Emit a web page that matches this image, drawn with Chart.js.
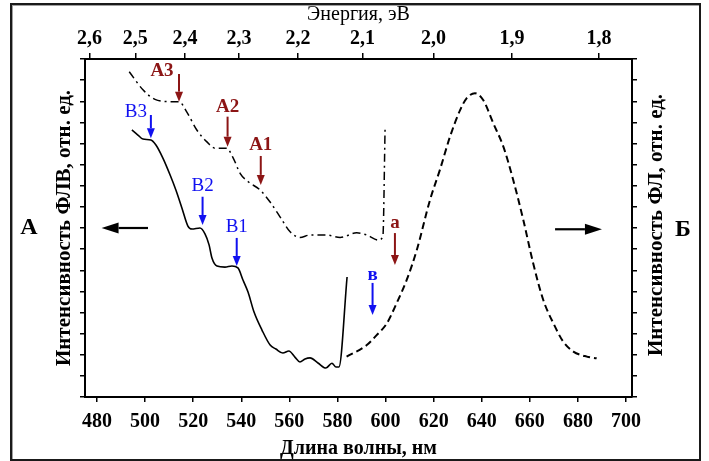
<!DOCTYPE html>
<html><head><meta charset="utf-8">
<script src="https://cdn.jsdelivr.net/npm/chart.js@4/dist/chart.umd.min.js"></script>
<style>
html,body{margin:0;padding:0;background:#fff;}
#wrap{position:relative;width:709px;height:461px;overflow:hidden;background:#fff;}
#c{position:absolute;left:0;top:0;}
#frame{position:absolute;left:10px;top:3px;width:687px;height:454px;border:2px solid #1a1a1a;box-shadow:inset 1px 1px 0 #a0a0a0;pointer-events:none;}
</style></head><body>
<div id="wrap"><canvas id="c" width="709" height="461"></canvas><div id="frame"></div></div>
<script>
// ---- data ----
// wavelength axis ticks, nm
const X_TICKS = [480, 500, 520, 540, 560, 580, 600, 620, 640, 660, 680, 700];
// energy axis ticks, eV
const E_TICKS = [2.6, 2.5, 2.4, 2.3, 2.2, 2.1, 2.0, 1.9, 1.8];
const E_LABELS = ['2,6', '2,5', '2,4', '2,3', '2,2', '2,1', '2,0', '1,9', '1,8'];
const HC = 1239.84; // eV*nm

// ФЛВ, curve "В" (solid)
const WL_B = [494.5, 497.0, 499.1, 502.4, 504.5, 507.4, 510.4, 512.8, 515.3, 517.8, 519.5, 522.8, 524.9, 526.6, 527.8, 529.9, 533.2, 536.1, 538.6, 540.7, 542.8, 545.3, 548.6, 552.0, 554.4, 557.3, 559.8, 562.3, 564.4, 566.5, 568.6, 571.9, 575.2, 577.7, 579.4, 580.6, 584.0];
const I_B  = [12.64, 12.40, 12.21, 12.17, 11.93, 11.31, 10.51, 9.80, 8.95, 8.09, 7.95, 8.00, 7.72, 7.20, 6.58, 6.20, 6.15, 6.20, 6.11, 5.54, 4.97, 4.02, 3.17, 2.46, 2.27, 2.08, 2.18, 1.89, 1.66, 1.80, 1.85, 1.61, 1.37, 1.60, 1.42, 1.42, 5.68];

// ФЛВ, curve "А" (dash-dot)
const WL_A = [493.4, 499.2, 504.1, 511.1, 514.1, 517.3, 521.5, 525.6, 529.1, 533.9, 536.7, 539.5, 542.9, 547.8, 551.9, 556.1, 560.3, 564.4, 568.6, 575.5, 581.1, 588.0, 592.2, 597.0, 598.9, 599.8];
const I_A  = [15.40, 14.53, 14.09, 13.98, 13.98, 13.50, 12.64, 12.09, 11.78, 11.78, 11.30, 10.59, 10.19, 9.80, 9.24, 8.53, 7.82, 7.55, 7.67, 7.67, 7.55, 7.77, 7.67, 7.43, 7.62, 12.68];

// ФЛ (dashed)
const WL_F = [583.8, 592.2, 596.3, 600.5, 604.6, 608.8, 613.0, 618.5, 622.6, 626.8, 631.0, 633.7, 637.2, 640.6, 644.8, 649.0, 653.1, 657.3, 661.4, 665.6, 669.8, 673.9, 678.1, 683.7, 687.8];
const I_F  = [1.91, 2.46, 2.93, 3.48, 4.44, 5.54, 6.96, 9.33, 10.75, 12.32, 13.58, 14.14, 14.38, 14.06, 12.96, 11.85, 10.27, 8.38, 6.33, 4.59, 3.49, 2.62, 2.15, 1.91, 1.83];

// marked features: label, wavelength, arrow tip and tail (intensity units)
const ANN_LABELS = ['А3', 'А2', 'А1', 'а', 'В3', 'В2', 'В1', 'в'];
const ANN_X    = [514.1, 534.3, 548.1, 603.9, 502.4, 523.9, 538.1, 594.6];
const ANN_TIP  = [13.98, 11.85, 10.04, 6.25, 12.25, 8.14, 6.20, 3.88];
const ANN_TAIL = [15.29, 13.27, 11.41, 7.76, 13.35, 9.48, 7.53, 5.40];
const ANN_GROUP = ['A', 'A', 'A', 'A', 'B', 'B', 'B', 'B'];

// side arrows (wavelength from, to; intensity level)
const SIDE_ARROWS = [[501.2, 481.9, 8.0], [670.5, 690.0, 7.94]];

// ---- styles ----
const FONT = "'Liberation Serif', 'Times New Roman', serif";
const RED = '#8c1515';
const BLUE = '#1010f0';
const LABEL_DX = [-17, 0, 0, 0, -15, 0, 0, 0];
const LABEL_DY = [-3, -10, -11, -10, -3, -11, -11, -8];

const toXY = (xs, ys) => xs.map((v, i) => ({x: v, y: ys[i]}));

function arrow(ctx, x1, y1, x2, y2, color, lw, hl, hw) {
  const a = Math.atan2(y2 - y1, x2 - x1);
  const bx = x2 - hl * Math.cos(a), by = y2 - hl * Math.sin(a);
  ctx.strokeStyle = color; ctx.fillStyle = color; ctx.lineWidth = lw;
  ctx.beginPath(); ctx.moveTo(x1, y1); ctx.lineTo(bx, by); ctx.stroke();
  ctx.beginPath();
  ctx.moveTo(x2, y2);
  ctx.lineTo(bx + hw * Math.sin(a), by - hw * Math.cos(a));
  ctx.lineTo(bx - hw * Math.sin(a), by + hw * Math.cos(a));
  ctx.closePath(); ctx.fill();
}

const annPlugin = {
  id: 'ann',
  afterDraw(chart) {
    const {ctx} = chart;
    const x = chart.scales.x, y = chart.scales.y;
    ctx.save();
    for (let i = 0; i < ANN_LABELS.length; i++) {
      const col = ANN_GROUP[i] === 'A' ? RED : BLUE;
      const px = x.getPixelForValue(ANN_X[i]);
      const pt = y.getPixelForValue(ANN_TIP[i]);
      const pl = y.getPixelForValue(ANN_TAIL[i]);
      arrow(ctx, px, pl, px, pt, col, 2, 10, 4);
      ctx.font = (ANN_GROUP[i] === 'A' || i === 7 ? 'bold ' : '') + '19px ' + FONT;
      ctx.fillStyle = col;
      ctx.textAlign = 'center'; ctx.textBaseline = 'middle';
      ctx.fillText(ANN_LABELS[i], px + LABEL_DX[i], pl + LABEL_DY[i]);
    }
    for (const [a, b, lv] of SIDE_ARROWS) {
      const yy = y.getPixelForValue(lv);
      arrow(ctx, x.getPixelForValue(a), yy, x.getPixelForValue(b), yy, '#000', 2.2, 17, 5.5);
    }
    ctx.fillStyle = '#000';
    ctx.textAlign = 'center'; ctx.textBaseline = 'middle';
    ctx.font = 'bold 24px ' + FONT;
    ctx.fillText('А', 29, 228);
    ctx.fillText('Б', 683, 230);
    ctx.font = 'bold 21px ' + FONT;
    ctx.translate(657, 225);
    ctx.rotate(-Math.PI / 2);
    ctx.fillText('Интенсивность ФЛ, отн. ед.', 0, 0);
    ctx.restore();
  }
};

const tickGrid = len => ({drawOnChartArea: false, drawTicks: true, tickLength: len, color: '#000', lineWidth: 1.5});
const border = {display: true, color: '#000', width: 2};

new Chart(document.getElementById('c'), {
  type: 'line',
  data: {
    datasets: [
      {label: 'ФЛВ В', data: toXY(WL_B, I_B), borderColor: '#000', borderWidth: 1.6, pointRadius: 0, cubicInterpolationMode: 'monotone', fill: false},
      {label: 'ФЛВ А', data: toXY(WL_A, I_A), borderColor: '#000', borderWidth: 1.5, borderDash: [8, 4, 2, 4], pointRadius: 0, cubicInterpolationMode: 'monotone', fill: false},
      {label: 'ФЛ', data: toXY(WL_F, I_F), borderColor: '#000', borderWidth: 2, borderDash: [7, 4], pointRadius: 0, cubicInterpolationMode: 'monotone', fill: false}
    ]
  },
  options: {
    responsive: false, animation: false, devicePixelRatio: 1,
    layout: {padding: 0},
    plugins: {legend: {display: false}, tooltip: {enabled: false}},
    scales: {
      x: {
        type: 'linear', position: 'bottom', min: 475, max: 702.5,
        afterBuildTicks: s => { s.ticks = X_TICKS.map(v => ({value: v})); },
        ticks: {font: {family: FONT, size: 20, weight: 'bold'}, color: '#000', padding: 8, maxRotation: 0, autoSkip: false, callback: v => String(v)},
        grid: tickGrid(5), border: border,
        title: {display: true, text: 'Длина волны, нм', color: '#000', font: {family: FONT, size: 20, weight: 'bold'}, padding: {top: 0, bottom: 0}},
        afterFit: s => { s.height = 64; }
      },
      x2: {
        type: 'linear', position: 'top', min: 475, max: 702.5,
        afterBuildTicks: s => { s.ticks = E_TICKS.map(e => ({value: HC / e})); },
        ticks: {font: {family: FONT, size: 20, weight: 'bold'}, color: '#000', padding: 2, maxRotation: 0, autoSkip: false, callback: (v, i) => E_LABELS[i]},
        grid: tickGrid(6), border: border,
        title: {display: true, text: 'Энергия, эВ', color: '#000', font: {family: FONT, size: 20, weight: 'normal'}, padding: {top: 3, bottom: 0}},
        afterFit: s => { s.height = 59; }
      },
      y: {
        type: 'linear', position: 'left', min: 0, max: 16,
        ticks: {display: false, stepSize: 1},
        grid: tickGrid(5), border: border,
        title: {display: true, text: 'Интенсивность ФЛВ, отн. ед.', color: '#000', font: {family: FONT, size: 21, weight: 'bold'}, padding: {top: 52, bottom: 0}},
        afterFit: s => { s.width = 85; }
      },
      y2: {
        type: 'linear', position: 'right', min: 0, max: 16,
        ticks: {display: false, stepSize: 1},
        grid: tickGrid(5), border: border,
        afterFit: s => { s.width = 77; }
      }
    }
  },
  plugins: [annPlugin]
});
</script>
</body></html>
